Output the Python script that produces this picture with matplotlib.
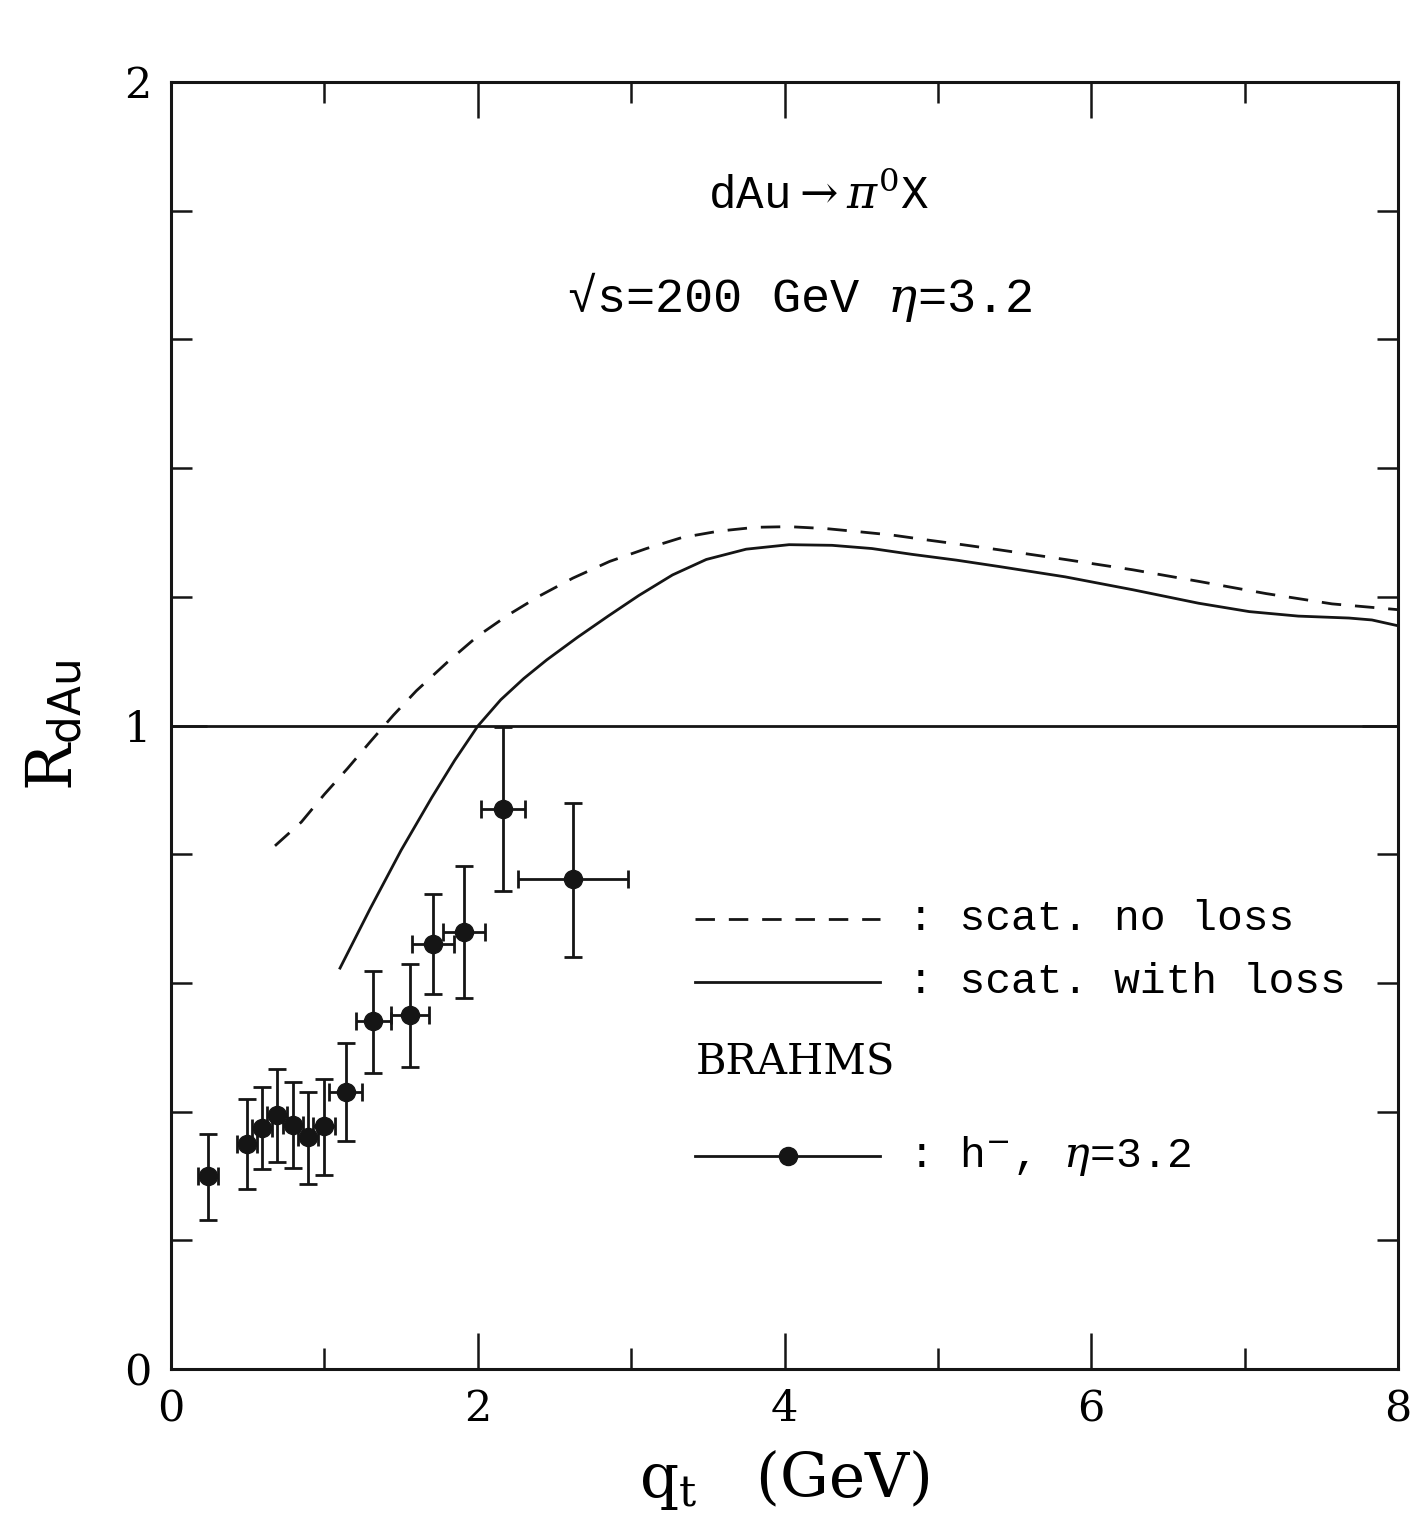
import matplotlib
matplotlib.use('Agg')
import matplotlib.pyplot as plt

plt.rcParams['mathtext.fontset'] = 'dejavuserif'

# BRAHMS h-, eta=3.2
qt_data = [0.243, 0.493, 0.591, 0.693, 0.793, 0.895, 0.997, 1.139, 1.319, 1.558, 1.710, 1.910, 2.166, 2.623]
r_data = [0.300, 0.349, 0.375, 0.395, 0.379, 0.360, 0.377, 0.430, 0.541, 0.550, 0.660, 0.679, 0.870, 0.761]
r_hi = [0.365, 0.419, 0.439, 0.466, 0.446, 0.431, 0.451, 0.506, 0.618, 0.630, 0.738, 0.782, 0.998, 0.880]
r_lo = [0.232, 0.279, 0.311, 0.321, 0.313, 0.288, 0.301, 0.354, 0.460, 0.470, 0.583, 0.576, 0.743, 0.641]
qt_err = [0.065, 0.065, 0.065, 0.065, 0.065, 0.065, 0.07, 0.108, 0.113, 0.123, 0.136, 0.136, 0.143, 0.359]

# scattering, no energy loss
qt_noloss = [0.678, 0.85, 1.00, 1.15, 1.30, 1.45, 1.60, 1.80, 2.00, 2.20, 2.40, 2.62, 2.86, 3.10,
             3.33, 3.57, 3.81, 4.03, 4.27, 4.49, 4.70, 4.94, 5.16, 5.40, 5.83, 6.27, 6.70, 7.14,
             7.57, 8.00]
r_noloss = [0.813, 0.850, 0.893, 0.933, 0.975, 1.016, 1.054, 1.098, 1.139, 1.172, 1.201, 1.229,
            1.255, 1.275, 1.292, 1.302, 1.308, 1.309, 1.306, 1.301, 1.296, 1.288, 1.281, 1.273,
            1.258, 1.242, 1.224, 1.205, 1.189, 1.180]

# scattering with energy loss
qt_loss = [1.102, 1.30, 1.50, 1.70, 1.85, 2.00, 2.15, 2.30, 2.45, 2.65, 2.85, 3.05, 3.27, 3.49,
           3.75, 4.03, 4.31, 4.57, 4.83, 5.12, 5.40, 5.83, 6.27, 6.70, 7.03, 7.35, 7.68, 7.83, 8.00]
r_loss = [0.623, 0.716, 0.806, 0.888, 0.946, 0.999, 1.040, 1.073, 1.102, 1.137, 1.170, 1.202,
          1.234, 1.258, 1.274, 1.281, 1.280, 1.275, 1.266, 1.257, 1.247, 1.231, 1.211, 1.190,
          1.177, 1.170, 1.167, 1.164, 1.155]

ink = '#151515'
mono = ['Liberation Mono', 'DejaVu Sans Mono']
serif = 'DejaVu Serif'

fig = plt.figure(figsize=(14.15, 15.35), dpi=100)
ax = fig.add_axes([171 / 1415, 1 - 1369 / 1535, 1227 / 1415, 1287 / 1535])

ax.axhline(1.0, color=ink, lw=2.0)
ax.plot(qt_noloss, r_noloss, color=ink, lw=2.0, dashes=(7, 5))
ax.plot(qt_loss, r_loss, color=ink, lw=2.0)

yerr = [[r - l for r, l in zip(r_data, r_lo)], [h - r for r, h in zip(r_data, r_hi)]]
ax.errorbar(qt_data, r_data, xerr=qt_err, yerr=yerr, fmt='o', color=ink, ms=13,
            elinewidth=2.0, capsize=6.5, capthick=2.0, zorder=3)

ax.set_xlim(0, 8)
ax.set_ylim(0, 2)
ax.set_xticks([0, 2, 4, 6, 8])
ax.set_xticks([1, 3, 5, 7], minor=True)
ax.set_yticks([0, 1, 2])
ax.set_yticks([0.2, 0.4, 0.6, 0.8, 1.2, 1.4, 1.6, 1.8], minor=True)
ax.tick_params(which='both', direction='in', top=True, right=True, color=ink,
               labelsize=31, pad=14)
ax.tick_params(which='major', length=26, width=1.8)
ax.tick_params(which='minor', length=15, width=1.8)
for lab in ax.get_xticklabels() + ax.get_yticklabels():
    lab.set_family(serif)
for sp in ax.spines.values():
    sp.set_linewidth(2.2)
    sp.set_color(ink)

ax.set_xlabel(r'q$_\mathrm{t}$   (GeV)', family=serif, fontsize=44, labelpad=12)
ax.set_ylabel(r'R$_{\mathsf{dAu}}$', family=serif, fontsize=45, labelpad=28)

ax.text(0.528, 0.911, r'dAu$\rightarrow\pi^{\mathrm{0}}$X', transform=ax.transAxes,
        family=mono, fontsize=33, ha='center', va='center')
ax.text(0.512, 0.833, '\u221as=200 GeV $\\eta$=3.2', transform=ax.transAxes,
        family=mono, fontsize=35, ha='center', va='center')

# legend drawn inside the frame
ax.plot([0.427, 0.578], [0.350, 0.350], transform=ax.transAxes, color=ink, lw=2.0, dashes=(7, 5))
ax.text(0.601, 0.350, ': scat. no loss', transform=ax.transAxes, family=mono,
        fontsize=31, va='center')
ax.plot([0.427, 0.578], [0.301, 0.301], transform=ax.transAxes, color=ink, lw=2.0)
ax.text(0.601, 0.301, ': scat. with loss', transform=ax.transAxes, family=mono,
        fontsize=31, va='center')
ax.text(0.428, 0.238, 'BRAHMS', transform=ax.transAxes, family=serif, fontsize=30,
        va='center')
ax.plot([0.427, 0.578], [0.1655, 0.1655], transform=ax.transAxes, color=ink, lw=2.0)
ax.plot([0.503], [0.1655], 'o', transform=ax.transAxes, color=ink, ms=13)
ax.text(0.601, 0.1655, r': h$^{-}$, $\eta$=3.2', transform=ax.transAxes, family=mono,
        fontsize=31, va='center')

fig.savefig('out.png', dpi=100)
